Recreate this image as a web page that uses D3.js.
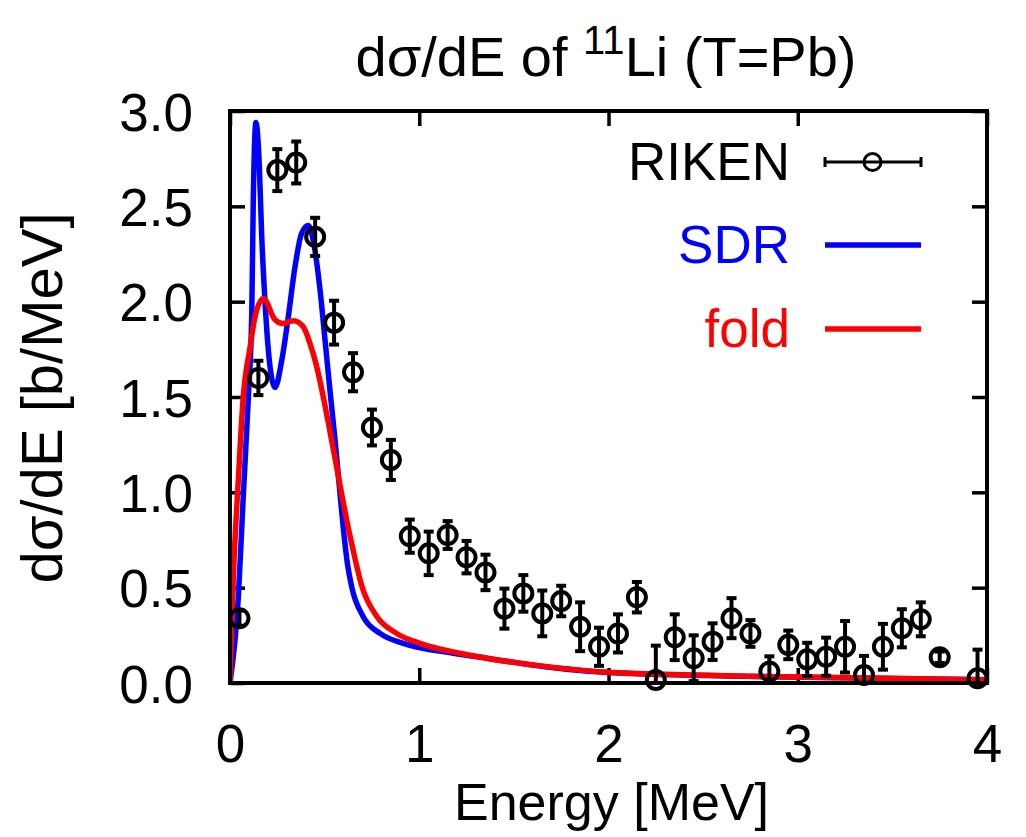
<!DOCTYPE html>
<html>
<head>
<meta charset="utf-8">
<script src="https://cdn.jsdelivr.net/npm/d3@7"></script>
<style>
  html, body { margin: 0; padding: 0; background: #fff; }
  svg { display: block; font-family: "Liberation Sans", Arial, Helvetica, sans-serif; }
</style>
</head>
<body>
<div id="chart"></div>
<script>
// RIKEN data points (energy bin centres, cross section, error)
const rikenE = [0.05, 0.15, 0.25, 0.35, 0.45, 0.55, 0.65, 0.75, 0.85, 0.95, 1.05, 1.15, 1.25, 1.35, 1.45, 1.55, 1.65, 1.75, 1.85, 1.95,
  2.05, 2.15, 2.25, 2.35, 2.45, 2.55, 2.65, 2.75, 2.85, 2.95, 3.05, 3.15, 3.25, 3.35, 3.45, 3.55, 3.65, 3.75, 3.95];
const rikenY = [0.34, 1.60, 2.69, 2.73, 2.34, 1.89, 1.63, 1.34, 1.17, 0.77, 0.68, 0.776, 0.66, 0.58, 0.39, 0.47, 0.365, 0.43, 0.295, 0.19,
  0.26, 0.45, 0.016, 0.24, 0.13, 0.217, 0.34, 0.26, 0.06, 0.20, 0.124, 0.138, 0.19, 0.042, 0.19, 0.287, 0.334, 0.135, 0.025];
const rikenErr = [0.04, 0.09, 0.11, 0.11, 0.10, 0.115, 0.10, 0.094, 0.105, 0.087, 0.114, 0.073, 0.085, 0.093, 0.105, 0.096, 0.12, 0.08, 0.128, 0.10,
  0.10, 0.08, 0.18, 0.12, 0.12, 0.096, 0.105, 0.07, 0.08, 0.075, 0.087, 0.10, 0.135, 0.10, 0.12, 0.10, 0.089, 0.03, 0.15];

// SDR calculation
const sdrE = [0, 0.044, 0.07, 0.097, 0.115, 0.123, 0.137, 0.155, 0.167, 0.185, 0.208, 0.238, 0.273, 0.308, 0.343, 0.379, 0.414, 0.44,
  0.476, 0.502, 0.528, 0.555, 0.578, 0.60, 0.62, 0.643, 0.704, 0.793, 0.916, 1.18, 1.356, 1.71, 2.0, 2.84, 4.0];
const sdrY = [0, 0.45, 0.977, 1.50, 1.94, 2.53, 2.94, 2.71, 2.36, 2.0, 1.69, 1.55, 1.69, 1.92, 2.18, 2.36, 2.40, 2.32,
  2.06, 1.80, 1.537, 1.274, 1.03, 0.80, 0.63, 0.505, 0.348, 0.26, 0.208, 0.156, 0.13, 0.08, 0.055, 0.033, 0.017];

// folded with resolution
const foldE = [0, 0.017, 0.044, 0.07, 0.106, 0.132, 0.176, 0.238, 0.28, 0.335, 0.387, 0.423, 0.458, 0.493, 0.528, 0.564, 0.60, 0.63,
  0.652, 0.696, 0.775, 0.881, 1.004, 1.215, 1.356, 1.71, 2.0, 2.84, 4.0];
const foldY = [0, 0.54, 1.065, 1.50, 1.76, 1.92, 2.017, 1.905, 1.885, 1.90, 1.868, 1.78, 1.66, 1.50, 1.32, 1.13, 0.94, 0.79,
  0.69, 0.51, 0.35, 0.26, 0.208, 0.156, 0.13, 0.082, 0.056, 0.034, 0.017];

const xTicks = [0, 1, 2, 3, 4];
const yTicks = [0, 0.5, 1.0, 1.5, 2.0, 2.5, 3.0];

const W = 1026, H = 837;
const m = { left: 230, right: 987, top: 111, bottom: 683 };
const FONT = 53;

const svg = d3.select('#chart').append('svg').attr('width', W).attr('height', H);

const x = d3.scaleLinear().domain([0, 4]).range([m.left, m.right]);
const y = d3.scaleLinear().domain([0, 3]).range([m.bottom, m.top]);

svg.append('clipPath').attr('id', 'clip')
  .append('rect').attr('x', m.left).attr('y', m.top)
  .attr('width', m.right - m.left).attr('height', m.bottom - m.top);

// axes, ticks pointing inward on all four sides
const tick = 15;
const axB = svg.append('g').attr('transform', `translate(0,${m.bottom})`)
  .call(d3.axisBottom(x).tickValues(xTicks).tickSize(-tick).tickPadding(tick + 26).tickFormat(d3.format('d')));
const axT = svg.append('g').attr('transform', `translate(0,${m.top})`)
  .call(d3.axisTop(x).tickValues(xTicks).tickSize(-tick).tickFormat(''));
const axL = svg.append('g').attr('transform', `translate(${m.left},0)`)
  .call(d3.axisLeft(y).tickValues(yTicks).tickSize(-tick).tickPadding(tick + 22).tickFormat(d3.format('.1f')));
const axR = svg.append('g').attr('transform', `translate(${m.right},0)`)
  .call(d3.axisRight(y).tickValues(yTicks).tickSize(-tick).tickFormat(''));

[axB, axT, axL, axR].forEach(g => {
  g.select('.domain').remove();
  g.selectAll('.tick line').attr('stroke', '#000').attr('stroke-width', 3.5);
  g.selectAll('.tick text').attr('fill', '#000').style('font-size', FONT + 'px')
    .style('font-family', '"Liberation Sans", Arial, sans-serif');
});
axL.selectAll('.tick text').attr('dy', '0.36em');

// curves
const line = d3.line().x(d => x(d[0])).y(d => y(d[1])).curve(d3.curveMonotoneX);
const plot = svg.append('g').attr('clip-path', 'url(#clip)');
plot.append('path').datum(d3.zip(sdrE, sdrY)).attr('d', line)
  .attr('fill', 'none').attr('stroke', '#0000ff').attr('stroke-width', 5.5).attr('stroke-linejoin', 'round');
plot.append('path').datum(d3.zip(foldE, foldY)).attr('d', line)
  .attr('fill', 'none').attr('stroke', '#ff0000').attr('stroke-width', 5.5).attr('stroke-linejoin', 'round');

// frame
svg.append('rect').attr('x', m.left).attr('y', m.top)
  .attr('width', m.right - m.left).attr('height', m.bottom - m.top)
  .attr('fill', 'none').attr('stroke', '#000').attr('stroke-width', 4);

// RIKEN points with error bars
const pts = rikenE.map((e, i) => ({ e, v: rikenY[i], err: rikenErr[i] }));
const bars = svg.append('g').attr('clip-path', 'url(#clip)');
const cap = 5;
pts.forEach(p => {
  const cx = x(p.e), y0 = y(p.v - p.err), y1 = y(p.v + p.err);
  bars.append('line').attr('x1', cx).attr('x2', cx).attr('y1', y0).attr('y2', y1)
    .attr('stroke', '#000').attr('stroke-width', 4);
  [y0, y1].forEach(yy => bars.append('line').attr('x1', cx - cap).attr('x2', cx + cap)
    .attr('y1', yy).attr('y2', yy).attr('stroke', '#000').attr('stroke-width', 4));
});
svg.append('g').selectAll('circle').data(pts).join('circle')
  .attr('cx', d => x(d.e)).attr('cy', d => y(d.v)).attr('r', 9)
  .attr('fill', 'none').attr('stroke', '#000').attr('stroke-width', 4);

// legend
const lg = svg.append('g').style('font-size', FONT + 'px');
const lx0 = 825, lx1 = 921, lxt = 790;
const entries = [
  { label: 'RIKEN', color: '#000', yy: 162 },
  { label: 'SDR', color: '#0000ff', yy: 245 },
  { label: 'fold', color: '#ff0000', yy: 329 },
];
entries.forEach((en, i) => {
  lg.append('text').attr('x', lxt).attr('y', en.yy + 18).attr('text-anchor', 'end')
    .attr('fill', en.color).text(en.label);
  if (i === 0) {
    lg.append('line').attr('x1', lx0).attr('x2', lx1).attr('y1', en.yy).attr('y2', en.yy)
      .attr('stroke', '#000').attr('stroke-width', 3);
    [lx0, lx1].forEach(xx => lg.append('line').attr('x1', xx).attr('x2', xx)
      .attr('y1', en.yy - 5).attr('y2', en.yy + 5).attr('stroke', '#000').attr('stroke-width', 3));
    lg.append('circle').attr('cx', (lx0 + lx1) / 2 - 0.5).attr('cy', en.yy).attr('r', 8.5)
      .attr('fill', 'none').attr('stroke', '#000').attr('stroke-width', 3);
  } else {
    lg.append('line').attr('x1', lx0).attr('x2', lx1).attr('y1', en.yy).attr('y2', en.yy)
      .attr('stroke', en.color).attr('stroke-width', 5.5);
  }
});

// title
const title = svg.append('text').attr('x', 606).attr('y', 76).attr('text-anchor', 'middle')
  .style('font-size', '56px').attr('fill', '#000');
title.append('tspan').text('dσ/dE of ');
title.append('tspan').attr('dy', -22).style('font-size', '40px').text('11');
title.append('tspan').attr('dy', 22).text('Li (T=Pb)');

// axis titles
svg.append('text').attr('x', (m.left + m.right) / 2 + 3).attr('y', 820).attr('text-anchor', 'middle')
  .style('font-size', '52px').text('Energy [MeV]');
svg.append('text').attr('transform', `translate(62,${(m.top + m.bottom) / 2 + 1}) rotate(-90)`)
  .attr('text-anchor', 'middle').style('font-size', '58px').text('dσ/dE [b/MeV]');
</script>
</body>
</html>
